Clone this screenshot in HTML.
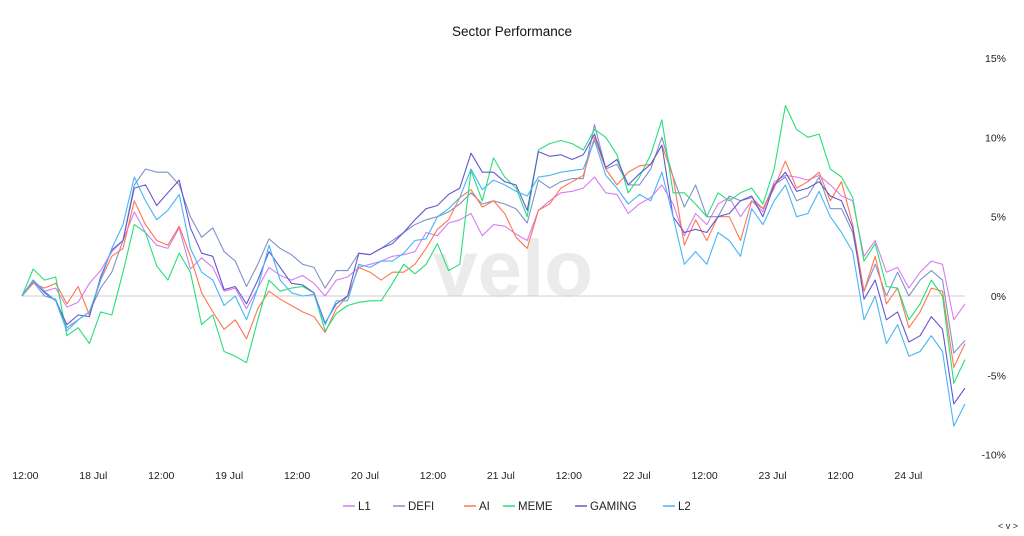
<!DOCTYPE html>
<html><head><meta charset="utf-8"><style>
body{margin:0;background:#fff;width:1024px;height:536px;overflow:hidden;font-family:"Liberation Sans",sans-serif}
svg{display:block}
</style></head><body>
<svg id="chart" width="1024" height="536" viewBox="0 0 1024 536" xmlns="http://www.w3.org/2000/svg">
<text x="512" y="36" text-anchor="middle" font-size="13.5" fill="#111" font-family="Liberation Sans, sans-serif">Sector Performance</text>
<text x="513" y="296" text-anchor="middle" font-size="80" font-weight="bold" fill="#ebebeb" font-family="Liberation Sans, sans-serif">velo</text>
<g id="yaxis"></g>
<g id="xaxis"></g>
<line x1="22" x2="965" y1="296" y2="296" stroke="#cfcfcf" stroke-width="1"/>
<g id="series"></g>
<g id="legend"></g>
<text x="1008" y="529" text-anchor="middle" font-size="9" fill="#222">&lt; v &gt;</text>
</svg>
<script>
const yTicks = [15, 10, 5, 0, -5, -10];
const yTickLabels = ["15%", "10%", "5%", "0%", "-5%", "-10%"];
const xTickHours = [1, 13, 25, 37, 49, 61, 73, 85, 97, 109, 121, 133, 145, 157];
const xTickLabels = ["12:00","18 Jul","12:00","19 Jul","12:00","20 Jul","12:00","21 Jul","12:00","22 Jul","12:00","23 Jul","12:00","24 Jul"];
const seriesNames = ["L1","DEFI","AI","MEME","GAMING","L2"];
const seriesColors = ["#d77cf2","#7f93c8","#ff7552","#27df78","#6458d2","#45b6f4"];
const L1 = [0,1.0,0.3,0.5,-0.7,-0.4,0.8,1.6,2.8,3.5,5.3,4.0,3.2,3.0,4.3,1.7,2.4,1.8,0.3,0.5,-0.8,0.5,1.8,1.3,1.0,1.3,0.8,0.0,1.0,1.2,1.8,2.0,2.2,2.5,2.6,2.8,4.0,3.8,4.6,4.8,5.2,3.8,4.5,4.4,3.9,3.5,5.4,6.0,6.5,6.6,6.8,7.5,6.5,6.4,5.2,5.8,6.2,7.0,5.8,3.8,5.2,4.5,5.8,6.2,5.0,6.0,5.3,7.2,7.6,7.5,7.3,7.6,7.0,6.3,6.0,2.5,3.5,1.5,1.8,0.5,1.5,2.2,2.0,-1.5,-0.5];
const DEFI = [0,0.9,0.0,-0.2,-2.0,-1.5,-1.0,0.5,1.5,3.5,7.0,8.0,7.8,7.8,7.0,5.0,3.7,4.3,2.8,2.2,0.6,2.0,3.6,3.0,2.6,2.0,1.8,0.5,1.6,1.6,2.7,2.6,3.0,3.5,4.0,4.5,4.8,5.0,5.3,5.8,6.5,5.8,6.0,5.8,5.5,4.6,7.3,6.8,7.2,7.4,7.4,10.8,8.0,8.3,7.0,7.0,8.0,10.0,7.5,5.6,7.0,5.0,5.0,6.3,6.0,6.2,5.5,7.0,7.5,6.0,6.3,7.5,5.5,5.5,4.0,0.3,2.0,0.0,1.5,0.0,1.0,1.6,1.0,-3.6,-2.8];
const AI = [0,0.8,0.5,0.8,-0.5,0.6,-1.2,1.0,2.5,3.0,6.0,4.5,3.5,3.2,4.4,2.5,0.2,-1.0,-2.1,-1.5,-2.7,-0.8,0.3,-0.2,-0.6,-1.0,-1.3,-2.3,-0.8,0.0,1.8,1.5,1.0,1.5,1.5,2.0,3.0,4.2,4.8,6.2,6.7,5.6,6.0,5.2,3.7,3.0,5.4,5.8,6.8,7.2,7.6,10.0,8.0,7.0,7.8,8.2,8.3,9.5,7.5,3.2,4.8,3.5,5.0,5.0,3.5,6.0,5.5,6.8,8.5,6.8,7.2,7.8,6.0,7.2,4.5,0.3,2.5,-0.5,0.5,-2.0,-1.0,0.5,0.3,-4.5,-3.0];
const MEME = [0,1.7,1.0,1.2,-2.5,-2.0,-3.0,-1.0,-1.2,1.5,4.5,4.0,1.9,1.0,2.7,1.5,-1.8,-1.2,-3.5,-3.8,-4.2,-1.5,1.0,0.3,0.5,0.6,0.2,-2.2,-1.1,-0.6,-0.4,-0.3,-0.3,0.8,2.0,1.4,2.0,3.3,1.6,2.0,7.9,6.0,8.7,7.5,6.8,5.0,9.2,9.6,9.8,9.6,9.2,10.5,10.0,8.9,6.5,7.5,8.9,11.1,6.5,6.5,5.8,5.0,6.5,6.0,6.5,6.8,5.8,8.0,12.0,10.5,10.0,10.2,8.0,7.5,6.2,2.2,3.3,0.6,0.5,-1.5,-0.5,1.0,0.0,-5.5,-4.0];
const GAMING = [0,1.0,0.2,-0.3,-1.8,-1.2,-1.3,1.2,2.9,3.5,6.8,7.0,5.7,6.5,7.3,4.3,2.7,2.5,0.4,0.6,-0.5,1.0,2.8,1.8,0.8,0.7,0.2,-1.7,-0.5,0.0,2.7,2.6,3.0,3.3,4.0,4.8,5.5,5.7,6.4,6.8,9.0,7.8,7.8,7.2,7.0,5.4,9.1,8.8,8.9,8.6,8.9,10.2,8.1,8.6,7.0,7.7,8.3,9.5,5.0,4.0,4.2,4.0,5.0,5.2,6.0,6.3,5.0,7.0,7.8,6.6,6.8,7.2,6.3,6.0,4.3,-0.2,1.0,-1.5,-1.0,-2.9,-2.5,-1.3,-2.1,-6.8,-5.8];
const L2 = [0,1.0,0.3,-0.3,-2.2,-1.5,-1.0,1.0,3.0,4.5,7.5,6.0,4.8,5.4,6.4,3.0,1.5,1.0,-0.6,0.0,-1.5,0.5,3.2,1.0,0.2,0.0,0.1,-1.8,-0.3,-0.3,2.0,1.8,2.2,2.2,2.7,3.5,3.6,5.0,5.5,6.2,8.0,6.7,7.3,7.0,6.6,6.3,7.5,7.6,7.8,7.9,8.0,9.8,7.6,6.8,5.8,6.4,6.0,7.8,5.0,2.0,2.8,2.0,4.0,3.5,2.5,5.5,4.5,6.0,7.0,5.0,5.2,6.6,5.0,4.0,2.8,-1.5,0.0,-3.0,-1.8,-3.8,-3.5,-2.5,-3.5,-8.2,-6.8];
const allSeries = [L1, DEFI, AI, MEME, GAMING, L2];

const NS = "http://www.w3.org/2000/svg";
const X0 = 22, X1 = 965, PTS = 85;
function xScale(i){ return X0 + (X1 - X0) * i / (PTS - 1); }
function yScale(v){ return 296 - v * 15.87; }

const yax = document.getElementById('yaxis');
yTicks.forEach((t, k) => {
  const tx = document.createElementNS(NS, 'text');
  
  
  tx.setAttribute('x', 1006); tx.setAttribute('y', yScale(t) + 4);
  tx.setAttribute('text-anchor', 'end'); tx.setAttribute('font-size', '10.5'); tx.setAttribute('fill', '#222');
  tx.textContent = yTickLabels[k];
  yax.appendChild(tx);
});
const xax = document.getElementById('xaxis');
xTickLabels.forEach((l, k) => {
  const tx = document.createElementNS(NS, 'text');
  
  
  const x = X0 + (X1 - X0) * (xTickHours[k] - 0.4) / 166.6;
  tx.setAttribute('x', x); tx.setAttribute('y', 479);
  tx.setAttribute('text-anchor', 'middle'); tx.setAttribute('font-size', '10.5'); tx.setAttribute('fill', '#222');
  tx.textContent = l;
  xax.appendChild(tx);
});
const sg = document.getElementById('series');
allSeries.forEach((s, k) => {
  const p = document.createElementNS(NS, 'polyline');
  
  
  p.setAttribute('points', s.map((v, i) => xScale(i).toFixed(1) + ',' + yScale(v).toFixed(1)).join(' '));
  p.setAttribute('fill', 'none'); p.setAttribute('stroke', seriesColors[k]); p.setAttribute('stroke-width', '1.1');
  p.setAttribute('stroke-linejoin', 'round');
  sg.appendChild(p);
});
const lg = document.getElementById('legend');
const legX = [343, 393, 464, 503, 575, 663];
seriesNames.forEach((n, k) => {
  const g = document.createElementNS(NS, 'g');
  
  
  const ln = document.createElementNS(NS, 'line');
  ln.setAttribute('x1', legX[k]); ln.setAttribute('x2', legX[k] + 12);
  ln.setAttribute('y1', 506); ln.setAttribute('y2', 506);
  ln.setAttribute('stroke', seriesColors[k]); ln.setAttribute('stroke-width', '1.5');
  const tx = document.createElementNS(NS, 'text');
  tx.setAttribute('x', legX[k] + 15); tx.setAttribute('y', 510);
  tx.setAttribute('font-size', '11.5'); tx.setAttribute('fill', '#222');
  tx.textContent = n;
  g.appendChild(ln); g.appendChild(tx);
  lg.appendChild(g);
});
</script>
</body></html>
